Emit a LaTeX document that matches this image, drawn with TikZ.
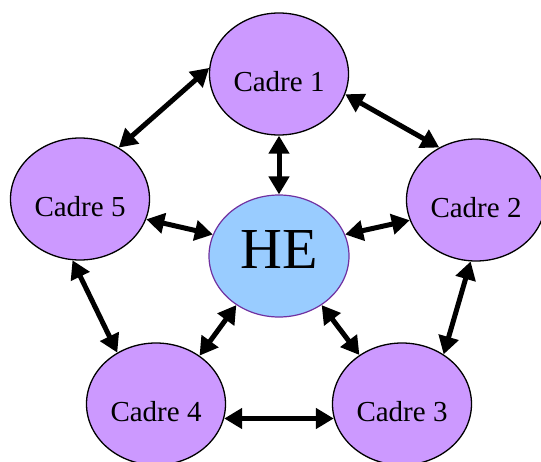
\documentclass[tikz,border=0pt]{standalone}
\usepackage{fontspec}
\setmainfont{Liberation Serif}
\usetikzlibrary{shapes.geometric,arrows.meta}
\definecolor{cadrefill}{RGB}{204,153,255}
\definecolor{hefill}{RGB}{153,204,255}
\definecolor{heborder}{RGB}{112,48,160}
\tikzset{
  cadre/.style={ellipse,draw=black,line width=1.3pt,fill=cadrefill,minimum width=139pt,minimum height=122pt,inner sep=0pt},
  hebox/.style={ellipse,draw=heborder,line width=1.2pt,fill=hefill,minimum width=140pt,minimum height=122pt,inner sep=0pt},
  lbl/.style={font=\fontsize{29}{32}\selectfont,inner sep=0pt},
  helbl/.style={font=\fontsize{58}{60}\selectfont,inner sep=0pt},
  link/.style={line width=5pt,{Triangle[length=18pt,width=20pt]}-{Triangle[length=18pt,width=20pt]}}
}
\begin{document}
\begin{tikzpicture}[x=1pt,y=-1pt]
\useasboundingbox (0,0) rectangle (541,461);
\node[cadre] (c1) at (279,74) {};
\node[cadre] (c2) at (476,200) {};
\node[cadre] (c3) at (402,404) {};
\node[cadre] (c4) at (156,404) {};
\node[cadre] (c5) at (80,199) {};
\node[hebox] (he) at (279,256) {};
\node[lbl] (t1) at ([yshift=-8pt]c1.center) {Cadre 1};
\node[lbl] (t2) at ([yshift=-8pt]c2.center) {Cadre 2};
\node[lbl] (t3) at ([yshift=-8pt]c3.center) {Cadre 3};
\node[lbl] (t4) at ([yshift=-8pt]c4.center) {Cadre 4};
\node[lbl] (t5) at ([yshift=-8pt]c5.center) {Cadre 5};
\node[helbl] (the) at ([yshift=6pt]he.center) {HE};
\draw[link] (c1.175) -- (c5.53);
\draw[link] (c1.-17) -- (c2.125);
\draw[link] (c1.south) -- (he.north);
\draw[link] (c5.-17) -- (he.162);
\draw[link] (c2.197) -- (he.18);
\draw[link] (he.229) -- (c4.48);
\draw[link] (he.-49) -- (c3.131);
\draw[link] (c5.263) -- (c4.127);
\draw[link] (c2.265) -- (c3.50);
\draw[link] (c4.-12) -- (c3.192);
\end{tikzpicture}
\end{document}
